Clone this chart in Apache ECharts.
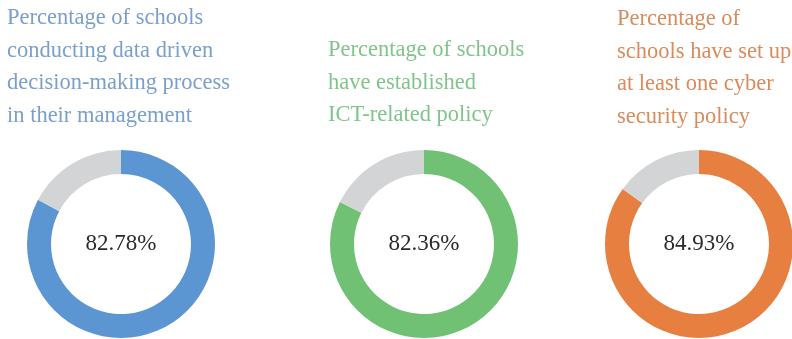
<!DOCTYPE html>
<html>
<head>
<meta charset="utf-8">
<script src="https://cdn.jsdelivr.net/npm/echarts@6/dist/echarts.min.js"></script>
<style>
  html, body { margin: 0; padding: 0; background: #ffffff; }
  #chart { width: 792px; height: 339px; }
</style>
</head>
<body>
<div id="chart"></div>
<script>
// Share of schools meeting each indicator (%)
const indicators = [
  'Percentage of schools\nconducting data driven\ndecision-making process\nin their management',
  'Percentage of schools\nhave established\nICT-related policy',
  'Percentage of\nschools have set up\nat least one cyber\nsecurity policy'
];
const percentages = [82.78, 82.36, 84.93];

const ringColors = ['#5b95d2', '#70c174', '#e67f3f'];
const titleColors = ['#7a9fcc', '#7fc58a', '#d98b5c'];
const restColor = '#d3d4d6';

const layout = [
  { center: [121, 244], titleLeft: 7, titleTop: 2 },
  { center: [424, 244], titleLeft: 328, titleTop: 34 },
  { center: [699, 244], titleLeft: 617, titleTop: 3 }
];

const serif = '"Liberation Serif", "Times New Roman", serif';

const chart = echarts.init(document.getElementById('chart'), null, { renderer: 'canvas' });

const option = {
  backgroundColor: '#ffffff',
  animation: false,
  title: indicators.map((t, i) => ({
    text: t,
    left: layout[i].titleLeft,
    top: layout[i].titleTop,
    padding: 0,
    textStyle: {
      fontFamily: serif,
      fontSize: 22.5,
      fontWeight: 'normal',
      lineHeight: 32.5,
      color: titleColors[i]
    }
  })),
  series: percentages.map((p, i) => ({
    type: 'pie',
    center: layout[i].center,
    radius: [70, 94],
    startAngle: 90,
    clockwise: true,
    silent: true,
    avoidLabelOverlap: false,
    labelLine: { show: false },
    itemStyle: { borderWidth: 0 },
    data: [
      {
        value: p,
        itemStyle: { color: ringColors[i] },
        label: {
          show: true,
          position: 'center',
          formatter: p.toFixed(2) + '%',
          fontFamily: serif,
          fontSize: 23,
          color: '#2a2a2a'
        }
      },
      {
        value: +(100 - p).toFixed(2),
        itemStyle: { color: restColor },
        label: { show: false }
      }
    ]
  }))
};

chart.setOption(option);
</script>
</body>
</html>
